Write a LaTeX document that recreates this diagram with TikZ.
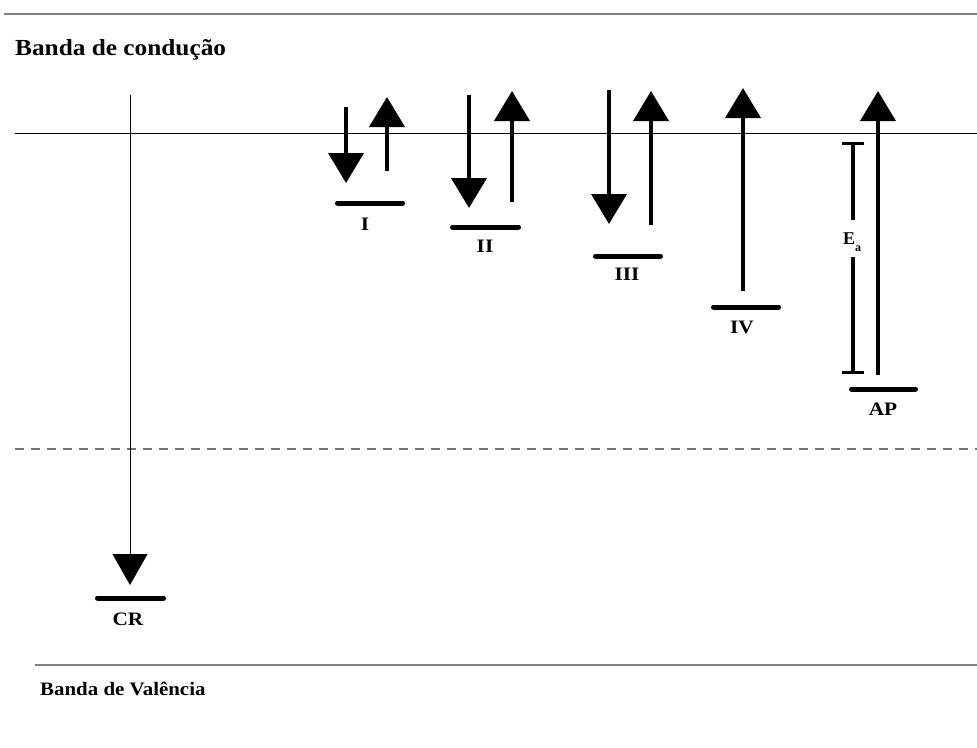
\documentclass[tikz,border=0pt]{standalone}
\usepackage{fontspec}
\setmainfont{Liberation Serif}
\usetikzlibrary{arrows.meta}
\begin{document}
\begin{tikzpicture}[x=1pt,y=-1pt,
  band/.style={draw=black!50,line width=1.3pt},
  cband/.style={draw=black,line width=1pt},
  lvl/.style={line width=5pt,line cap=round},
  trans/.style={line width=4pt,-{Triangle[length=30pt,width=35pt]}},
  lbl/.style={font=\fontsize{19}{19}\selectfont\bfseries,anchor=base,inner sep=0pt,xscale=1.12},
  ttl/.style={anchor=base west,inner sep=0pt,xscale=1.1}]
\useasboundingbox (0,0) rectangle (977,747);
% bands
\draw[band] (4,14) -- (977,14);
\node[ttl,font=\fontsize{23}{23}\selectfont\bfseries] (tc) at (15,55) {Banda de condução};
\draw[cband] (15,133) -- (977,133);
\draw[draw=black!55,line width=1.3pt,dash pattern=on 9pt off 7pt] (15,449) -- (977,449);
\draw[band] (35,665) -- (977,665);
\node[ttl,font=\fontsize{19}{19}\selectfont\bfseries] (tv) at (40,695) {Banda de Valência};
% levels
\draw[lvl] (337.5,203) -- (402.5,203);
\node[lbl] (lI) at (365,230) {I};
\draw[lvl] (452.5,227) -- (518.5,227);
\node[lbl] (lII) at (485,252) {II};
\draw[lvl] (595.5,256) -- (660.5,256);
\node[lbl] (lIII) at (627,280) {III};
\draw[lvl] (713.5,307) -- (778.5,307);
\node[lbl] (lIV) at (742,333) {IV};
\draw[lvl] (851.5,389) -- (915.5,389);
\node[lbl] (lAP) at (883,415) {AP};
\draw[lvl] (97.5,598) -- (163.5,598);
\node[lbl] (lCR) at (128,625) {CR};
% transitions
\coordinate (d1a) at (346,107); \coordinate (d1b) at (346,183);
\coordinate (u1a) at (387,171); \coordinate (u1b) at (387,97);
\draw[trans] (d1a) -- (d1b);
\draw[trans] (u1a) -- (u1b);
\coordinate (d2a) at (469,95); \coordinate (d2b) at (469,208);
\coordinate (u2a) at (512,202); \coordinate (u2b) at (512,91);
\draw[trans] (d2a) -- (d2b);
\draw[trans] (u2a) -- (u2b);
\coordinate (d3a) at (609,90); \coordinate (d3b) at (609,224);
\coordinate (u3a) at (651,225); \coordinate (u3b) at (651,91);
\draw[trans] (d3a) -- (d3b);
\draw[trans] (u3a) -- (u3b);
\coordinate (u4a) at (743,291); \coordinate (u4b) at (743,88);
\draw[trans] (u4a) -- (u4b);
\coordinate (u5a) at (878,375); \coordinate (u5b) at (878,91);
\draw[trans] (u5a) -- (u5b);
\coordinate (cra) at (130,95); \coordinate (crb) at (130,585);
\draw[line width=1pt,-{Triangle[length=31pt,width=35pt]}] (cra) -- (crb);
% activation energy
\node[font=\fontsize{18}{18}\selectfont\bfseries,inner sep=0pt,anchor=base west] (ea) at (843,244) {E\raisebox{-7pt}{\fontsize{12}{12}\selectfont a}};
\coordinate (eat) at (853,142); \coordinate (eab) at (853,374);
\draw[line width=4pt,{Bar[width=22pt,line width=3pt]}-] (eat) -- (853,220);
\draw[line width=4pt,-{Bar[width=22pt,line width=3pt]}] (853,257) -- (eab);
\end{tikzpicture}
\end{document}
